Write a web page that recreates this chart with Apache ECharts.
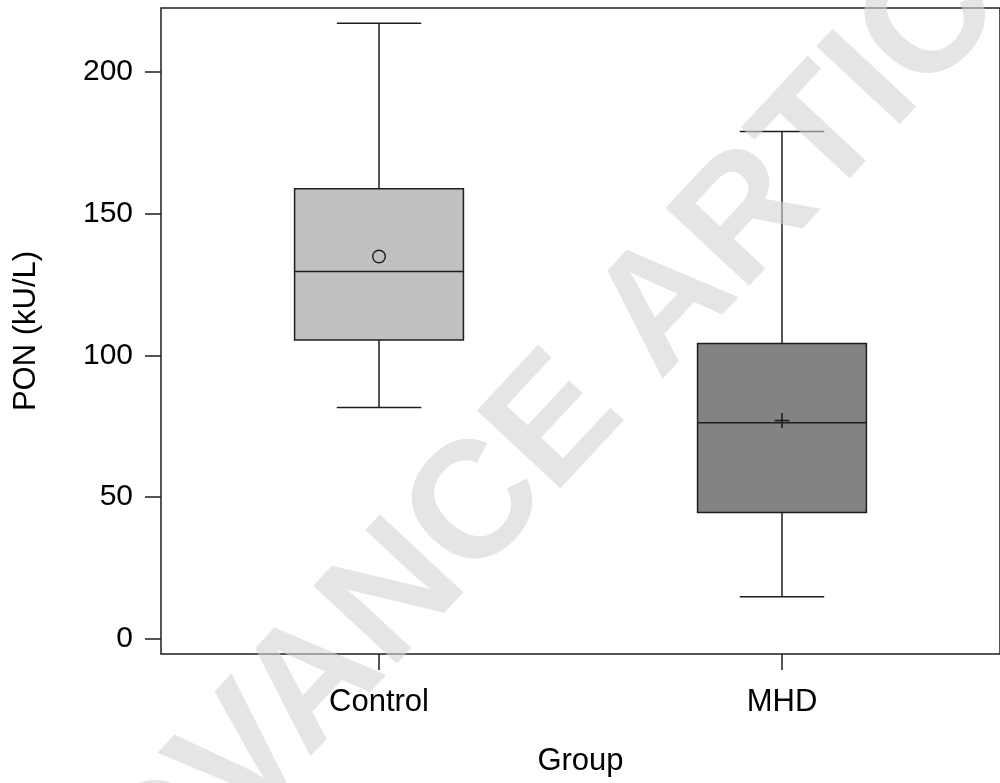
<!DOCTYPE html>
<html>
<head>
<meta charset="utf-8">
<title>PON by group</title>
<script src="https://cdn.jsdelivr.net/npm/echarts@6/dist/echarts.min.js"></script>
<style>
	html, body { margin: 0; padding: 0; background: #fff; }
	#chart { width: 1000px; height: 783px; }
</style>
</head>
<body>
<div id="chart"></div>
<script>
(function(){
	'use strict';

	// values (kU/L)
	var groups = ['Control', 'MHD'];
	var whiskerLow = [81.6, 14.8];
	var q1 = [105.4, 44.5];
	var medians = [129.6, 76.2];
	var q3 = [158.8, 104.2];
	var whiskerHigh = [217.2, 179.0];
	var means = [134.9, 77.0];
	var yTicks = [0, 50, 100, 150, 200];
	var xTicks = [0, 1];

	// look
	var boxFills = ['#c0c0c0', '#838383'];
	var meanMarks = ['circle', 'plus'];
	var ink = '#1e1e1e';
	var font = '"Liberation Sans", Arial, sans-serif';

	var boxData = groups.map(function(g, i){
		return [i, whiskerLow[i], q1[i], medians[i], q3[i], whiskerHigh[i], means[i]];
	});

	var renderBox = function(params, api){
		var x = api.value(0);
		var halfBox = api.size([0.419, 0])[0] / 2;
		var halfCap = halfBox / 2;
		var pLow = api.coord([x, api.value(1)]);
		var pQ1 = api.coord([x, api.value(2)]);
		var pMed = api.coord([x, api.value(3)]);
		var pQ3 = api.coord([x, api.value(4)]);
		var pHigh = api.coord([x, api.value(5)]);
		var pMean = api.coord([x, api.value(6)]);
		var cx = pMed[0];

		var seg = function(x1, y1, x2, y2, lw){
			return {
				type: 'line',
				shape: {x1: x1, y1: y1, x2: x2, y2: y2},
				style: {stroke: ink, lineWidth: lw || 1.5}
			};
		};

		var children = [
			seg(cx, pQ3[1], cx, pHigh[1]),
			seg(cx, pQ1[1], cx, pLow[1]),
			seg(cx - halfCap, pHigh[1], cx + halfCap, pHigh[1]),
			seg(cx - halfCap, pLow[1], cx + halfCap, pLow[1]),
			{
				type: 'rect',
				shape: {x: cx - halfBox, y: pQ3[1], width: halfBox * 2, height: pQ1[1] - pQ3[1]},
				style: {fill: boxFills[params.dataIndex], stroke: ink, lineWidth: 1.5}
			},
			seg(cx - halfBox, pMed[1], cx + halfBox, pMed[1])
		];

		//mean marker
		if(meanMarks[params.dataIndex] === 'circle'){
			children.push({
				type: 'circle',
				shape: {cx: cx, cy: pMean[1], r: 6.3},
				style: {stroke: ink, lineWidth: 1.4, fill: null}
			});
		}else{
			children.push(seg(cx - 7.5, pMean[1], cx + 7.5, pMean[1], 1.6));
			children.push(seg(cx, pMean[1] - 7.5, cx, pMean[1] + 7.5, 1.6));
		}
		return {type: 'group', children: children};
	};

	var createChart = function(){
		var myChart = echarts.init(document.getElementById('chart'), null, {renderer: 'canvas'});

		var option = {
			animation: false,
			backgroundColor: '#fff',
			grid: {
				left: 161, top: 8, right: -1, bottom: 129,
				show: true,
				borderColor: ink,
				borderWidth: 1.5,
				backgroundColor: 'transparent'
			},
			xAxis: {
				type: 'value',
				min: -0.541,
				max: 1.541,
				axisLine: {show: false, onZero: false},
				splitLine: {show: false},
				axisTick: {
					show: true,
					customValues: xTicks,
					length: 16,
					lineStyle: {color: ink, width: 1.5}
				},
				axisLabel: {
					customValues: xTicks,
					margin: 33,
					fontSize: 31,
					fontFamily: font,
					color: '#000',
					formatter: function(v){
						return groups[Math.round(v)];
					}
				},
				name: 'Group',
				nameLocation: 'middle',
				nameGap: 92,
				nameTextStyle: {fontSize: 31, fontFamily: font, color: '#000'}
			},
			yAxis: {
				type: 'value',
				min: -5.4,
				max: 222.6,
				axisLine: {show: false, onZero: false},
				splitLine: {show: false},
				axisTick: {
					show: true,
					customValues: yTicks,
					length: 16,
					lineStyle: {color: ink, width: 1.5}
				},
				axisLabel: {
					customValues: yTicks,
					margin: 28,
					fontSize: 30,
					fontFamily: font,
					color: '#000'
				},
				name: 'PON (kU/L)',
				nameLocation: 'middle',
				nameGap: 119,
				nameTextStyle: {fontSize: 31, fontFamily: font, color: '#000'}
			},
			series: [{
				type: 'custom',
				renderItem: renderBox,
				encode: {x: 0, y: [1, 2, 3, 4, 5, 6]},
				data: boxData,
				clip: true
			}],
			// watermark over the plot
			graphic: [{
				type: 'text',
				x: 580,
				y: 400,
				rotation: 47 * Math.PI / 180,
				z: 100,
				silent: true,
				style: {
					text: 'ADVANCE ARTICLE',
					fontSize: 166,
					fontWeight: 'bold',
					fontFamily: font,
					fill: 'rgba(212,212,212,0.6)',
					align: 'center',
					verticalAlign: 'middle'
				}
			}]
		};
		myChart.setOption(option);
	};

	createChart();
})();
</script>
</body>
</html>
